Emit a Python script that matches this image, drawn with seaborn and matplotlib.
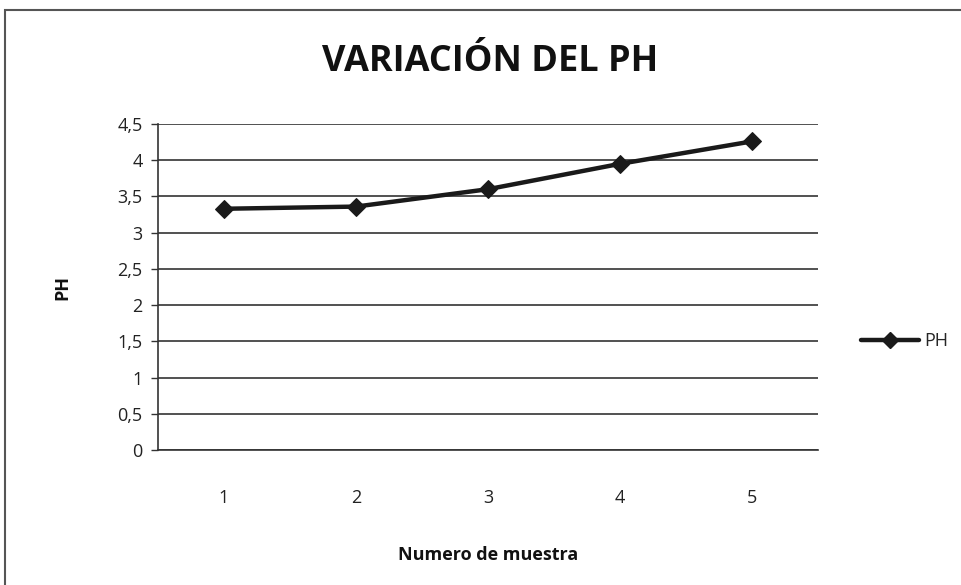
import matplotlib
matplotlib.use("Agg")
import matplotlib.pyplot as plt
import seaborn as sns
import pandas as pd
from matplotlib.patches import Rectangle
from matplotlib.lines import Line2D

muestras = [1, 2, 3, 4, 5]
ph = [3.33, 3.36, 3.60, 3.95, 4.26]
yticks = [0, 0.5, 1, 1.5, 2, 2.5, 3, 3.5, 4, 4.5]
ytick_labels = ["0", "0,5", "1", "1,5", "2", "2,5", "3", "3,5", "4", "4,5"]

df = pd.DataFrame({"Numero de muestra": muestras, "PH": ph})

sns.set_theme(style="white")
plt.rcParams["font.family"] = ["Open Sans", "DejaVu Sans"]

W, H = 962, 585
fig = plt.figure(figsize=(W / 100, H / 100), dpi=100)
ax = fig.add_axes([158 / W, 1 - 450 / H, (818 - 158) / W, (450 - 124) / H])

sns.lineplot(data=df, x="Numero de muestra", y="PH", ax=ax, color="#1a1a1a",
             linewidth=3.2, marker="D", markersize=9, markeredgecolor="#1a1a1a",
             legend=False)

ax.set_xlim(0.5, 5.5)
ax.set_ylim(0, 4.5)
ax.set_yticks(yticks)
ax.set_yticklabels(ytick_labels)
ax.set_xticks(muestras)
ax.set_xticks([0.5, 1.5, 2.5, 3.5, 4.5, 5.5], minor=True)
ax.tick_params(axis="x", which="major", length=0, pad=28, labelsize=13, colors="#222222")
ax.tick_params(axis="x", which="minor", length=5, width=1, color="#333333", direction="out")
ax.tick_params(axis="y", length=5, width=1, color="#333333", direction="out", labelsize=13,
               colors="#222222", left=True, pad=6)
ax.yaxis.grid(True, color="#333333", linewidth=1.2)
ax.xaxis.grid(False)
for s in ["top", "right"]:
    ax.spines[s].set_visible(False)
for s in ["left", "bottom"]:
    ax.spines[s].set_color("#333333")
    ax.spines[s].set_linewidth(1.2)

ax.set_xlabel("Numero de muestra", fontsize=13, fontweight="bold", labelpad=28, color="#111111")
ax.set_ylabel("PH", fontsize=13, fontweight="bold", labelpad=33, color="#111111")

fig.text(490 / W, 1 - 62 / H, "VARIACIÓN DEL PH", ha="center", va="center",
         fontsize=26, fontweight="bold", color="#111111")

handle = Line2D([], [], color="#1a1a1a", linewidth=3.2, marker="D", markersize=8)
fig.legend([handle], ["PH"], loc="center left", bbox_to_anchor=(845 / W, 1 - 341 / H),
           frameon=False, fontsize=13, handlelength=3.2, handletextpad=0.3)

fig.patches.append(Rectangle((5 / W, -0.05), 1.0, 1 - 10 / H + 0.05, transform=fig.transFigure,
                             fill=False, edgecolor="#555555", linewidth=1.5))

fig.savefig("out.png", dpi=100)
